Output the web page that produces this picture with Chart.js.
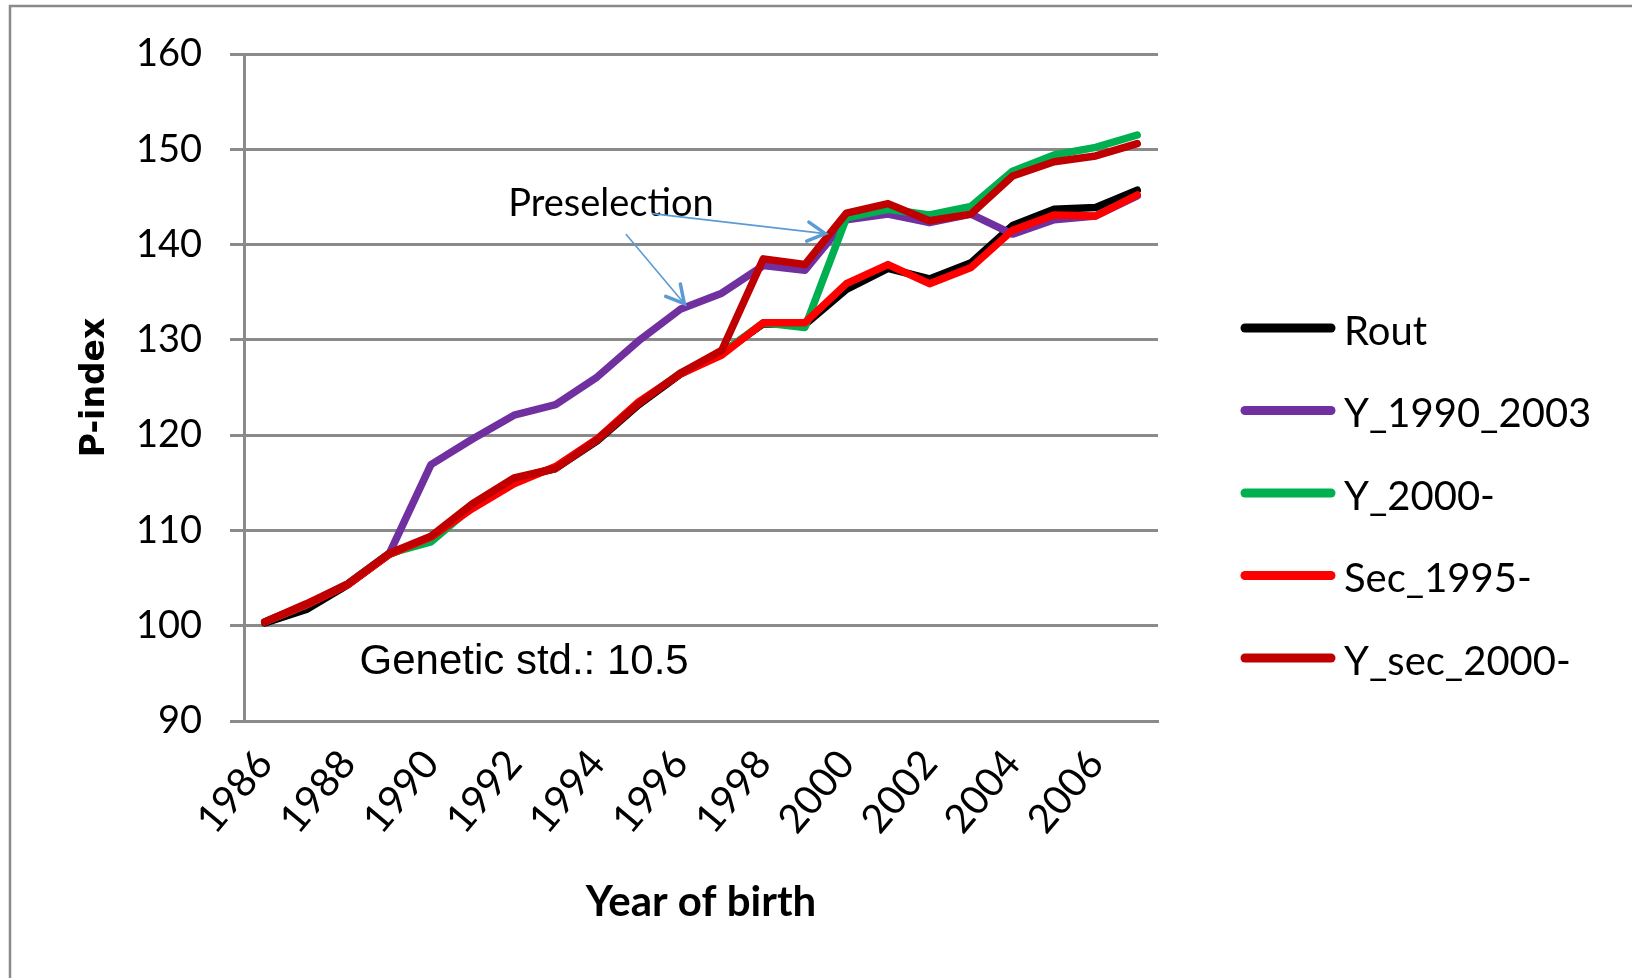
<!DOCTYPE html>
<html>
<head>
<meta charset="utf-8">
<script src="https://cdn.jsdelivr.net/npm/chart.js@4.4.1/dist/chart.umd.min.js"></script>
<style>
  html, body { margin: 0; padding: 0; background: #fff; }
  #wrap { width: 1632px; height: 978px; position: relative; }
</style>
</head>
<body>
<div id="wrap"><canvas id="pIndexChart" width="1632" height="978"></canvas></div>
<script>
// year of birth, 1986..2007
const years = ['1986','1987','1988','1989','1990','1991','1992','1993','1994','1995','1996',
               '1997','1998','1999','2000','2001','2002','2003','2004','2005','2006','2007'];

const rout      = [100.3, 101.7, 104.3, 107.5, 109.2, 112.6, 115.4, 116.5, 119.4, 123.2, 126.4,
                   128.6, 131.7, 131.6, 135.3, 137.5, 136.4, 138.1, 142.0, 143.7, 143.9, 145.7];
const y19902003 = [100.4, 102.2, 104.4, 107.6, 116.9, 119.6, 122.1, 123.2, 126.1, 129.9, 133.2,
                   134.9, 137.8, 137.3, 142.6, 143.2, 142.3, 143.2, 141.1, 142.6, 143.0, 145.1];
const y2000     = [100.4, 102.2, 104.4, 107.6, 108.8, 112.5, 115.3, 116.6, 119.5, 123.4, 126.5,
                   128.6, 131.8, 131.3, 142.8, 143.7, 143.1, 144.0, 147.7, 149.4, 150.2, 151.5];
const sec1995   = [100.4, 102.2, 104.3, 107.5, 109.3, 112.3, 114.9, 116.7, 119.6, 123.5, 126.4,
                   128.4, 131.8, 131.8, 135.9, 137.9, 135.9, 137.6, 141.5, 143.1, 143.0, 145.2];
const ysec2000  = [100.4, 102.3, 104.4, 107.6, 109.4, 112.8, 115.5, 116.5, 119.5, 123.3, 126.5,
                   128.9, 138.5, 137.9, 143.3, 144.3, 142.5, 143.2, 147.2, 148.7, 149.3, 150.6];

const seriesNames  = ['Rout', 'Y_1990_2003', 'Y_2000-', 'Sec_1995-', 'Y_sec_2000-'];
const seriesColors = ['#000000', '#7030A0', '#00B050', '#FF0000', '#C00000'];
const seriesData   = [rout, y19902003, y2000, sec1995, ysec2000];

const yTicks = [90, 100, 110, 120, 130, 140, 150, 160];

// notes placed in data space (category index, P-index)
const notes = [
    { text: 'Preselection', at: [5.86, 143.0], font: '38px Lato', baseline: 'alphabetic' },
    { text: 'Genetic std.: 10.5', at: [2.28, 96.1], font: '42px "Liberation Sans"', baseline: 'middle' }
];
const arrows = [
    { from: [9.33, 143.25], to: [13.49, 141.15] },
    { from: [8.70, 141.05], to: [10.10, 133.8] }
];

const GRID = '#8a8a8a';

const framePlugin = {
    id: 'frame',
    beforeDraw(chart) {
        const c = chart.ctx;
        c.save();
        c.fillStyle = '#fff';
        c.fillRect(0, 0, chart.width, chart.height);
        c.strokeStyle = GRID;
        c.lineWidth = 2.5;
        c.beginPath();
        c.moveTo(10, chart.height);
        c.lineTo(10, 6);
        c.lineTo(chart.width, 6);
        c.stroke();
        c.restore();
    }
};

const notesPlugin = {
    id: 'notes',
    afterDraw(chart) {
        const c = chart.ctx;
        const xs = chart.scales.x, ys = chart.scales.y;
        c.save();
        c.fillStyle = '#000';
        notes.forEach(n => {
            c.font = n.font;
            c.textAlign = 'left';
            c.textBaseline = n.baseline;
            c.fillText(n.text, xs.getPixelForValue(n.at[0]), ys.getPixelForValue(n.at[1]));
        });
        c.strokeStyle = '#5B9BD5';
        c.lineCap = 'round';
        arrows.forEach(a => {
            const x1 = xs.getPixelForValue(a.from[0]), y1 = ys.getPixelForValue(a.from[1]);
            const x2 = xs.getPixelForValue(a.to[0]), y2 = ys.getPixelForValue(a.to[1]);
            c.lineWidth = 1.6;
            c.beginPath();
            c.moveTo(x1, y1);
            c.lineTo(x2, y2);
            c.stroke();
            const ang = Math.atan2(y2 - y1, x2 - x1);
            c.lineWidth = 3.5;
            c.beginPath();
            c.moveTo(x2 - 20 * Math.cos(ang - 0.5), y2 - 20 * Math.sin(ang - 0.5));
            c.lineTo(x2, y2);
            c.lineTo(x2 - 20 * Math.cos(ang + 0.5), y2 - 20 * Math.sin(ang + 0.5));
            c.stroke();
        });
        c.restore();
    }
};

// legend drawn by hand so it can sit well away from the plot
const legendPlugin = {
    id: 'sideLegend',
    afterDraw(chart) {
        const c = chart.ctx;
        c.save();
        c.font = '40px Lato';
        c.textBaseline = 'middle';
        c.textAlign = 'left';
        c.lineCap = 'round';
        chart.data.datasets.forEach((ds, i) => {
            const y = 328 + i * 82.5;
            c.strokeStyle = ds.borderColor;
            c.lineWidth = 9;
            c.beginPath();
            c.moveTo(1245, y);
            c.lineTo(1331, y);
            c.stroke();
            c.fillStyle = '#000';
            c.fillText(ds.label, 1344, y + 4);
        });
        c.restore();
    }
};

const ctx = document.getElementById('pIndexChart').getContext('2d');
const chart = new Chart(ctx, {
    type: 'line',
    data: {
        labels: years,
        datasets: seriesNames.map((name, i) => ({
            label: name,
            data: seriesData[i],
            borderColor: seriesColors[i],
            backgroundColor: seriesColors[i],
            borderWidth: 7.5,
            borderJoinStyle: 'round',
            borderCapStyle: 'round',
            pointRadius: 0,
            tension: 0,
            fill: false,
            order: seriesNames.length - i
        }))
    },
    options: {
        responsive: false,
        devicePixelRatio: 1,
        animation: false,
        layout: { padding: { left: 0, top: 54, right: 474, bottom: 0 } },
        plugins: {
            legend: { display: false },
            tooltip: { enabled: false }
        },
        scales: {
            x: {
                offset: true,
                grid: { display: false, drawTicks: false },
                border: { display: true, color: GRID, width: 3 },
                ticks: {
                    autoSkip: false,
                    maxRotation: 50,
                    minRotation: 50,
                    padding: 20,
                    color: '#000',
                    font: { family: 'Lato', size: 40 },
                    callback: (v, i) => (i % 2 === 0 ? years[i] : '')
                },
                title: {
                    display: true,
                    text: 'Year of birth',
                    color: '#000',
                    font: { family: 'Lato', size: 42, weight: 'bold' },
                    padding: { top: 0, bottom: 50 }
                },
                afterFit: s => { s.height = 257; }
            },
            y: {
                min: yTicks[0],
                max: yTicks[yTicks.length - 1],
                afterBuildTicks: s => { s.ticks = yTicks.map(v => ({ value: v })); },
                grid: { color: GRID, lineWidth: 3, tickLength: 14, drawTicks: true },
                border: { display: true, color: GRID, width: 3 },
                ticks: {
                    padding: 28,
                    color: '#000',
                    font: { family: 'Lato', size: 38 }
                },
                title: {
                    display: true,
                    text: 'P-index',
                    color: '#000',
                    font: { family: 'DejaVu Sans', size: 33, weight: 'bold' },
                    padding: { top: 76, bottom: 0 }
                },
                afterFit: s => { s.width = 244; }
            }
        }
    },
    plugins: [framePlugin, notesPlugin, legendPlugin]
});
</script>
</body>
</html>
